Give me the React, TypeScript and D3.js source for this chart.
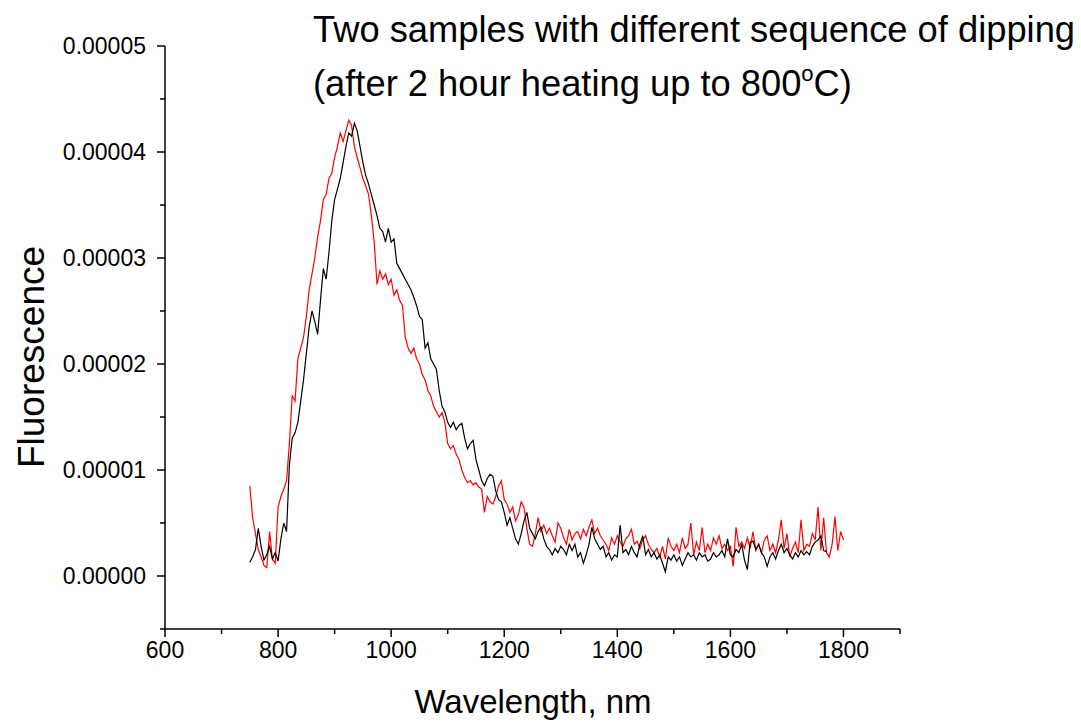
import React from "react";
import * as d3 from "d3";

// Fluorescence spectra, values in units of 1e-6, sampled every 5 nm from 750 nm
const WL_START = 750;
const WL_STEP = 5;
const VALUE_UNIT = 1e-6;

// Sample 1 (black), 750–1770 nm
const sampleBlack: number[] = [
  1.3, 1.8, 2.5, 4.5, 2.8, 1.5, 2.0, 2.8, 1.6, 2.2,
  1.4, 3.5, 5.0, 4.2, 10.5, 13.0, 13.5, 14.5, 16.5, 18.5,
  21.0, 23.5, 25.0, 24.0, 22.8, 26.0, 29.0, 28.0, 30.5, 33.5,
  35.5, 36.5, 37.5, 39.0, 40.5, 41.8, 41.5, 42.7, 42.0, 40.5,
  39.0, 37.8, 37.0, 36.0, 35.0, 34.0, 32.8, 32.5, 31.5, 32.8,
  31.5, 31.8, 29.5, 29.0, 28.5, 28.0, 27.5, 27.0, 26.3, 25.5,
  24.5, 24.2, 21.5, 22.0, 20.5, 20.0, 19.5, 17.5, 16.0, 15.5,
  14.5, 14.0, 14.5, 13.8, 14.2, 14.4, 13.0, 12.0, 12.5, 12.8,
  11.0, 10.0, 9.0, 8.5, 9.2, 9.6, 9.4, 8.0, 7.2, 7.0,
  6.0, 4.8, 5.5, 4.5, 3.5, 3.0, 4.0, 5.2, 6.0, 4.5,
  4.0, 3.5, 4.2, 4.6, 3.5, 2.8, 2.5, 2.0, 2.6, 2.2,
  2.8, 2.5, 2.0, 3.0, 2.4, 3.0, 1.8, 2.2, 1.2, 2.0,
  3.0, 4.6, 3.5, 3.0, 2.5, 2.8, 1.8, 2.2, 1.5, 2.0,
  1.8, 4.8, 2.2, 2.5, 2.0, 2.8, 2.2, 1.8, 3.0, 3.8,
  2.0, 2.5, 1.8, 2.2, 1.6, 2.0, 1.2, 0.4, 1.8, 1.5,
  2.0, 1.4, 1.8, 1.0, 1.6, 2.2, 1.8, 2.0, 1.5, 2.2,
  1.8, 2.0, 1.4, 1.6, 2.2, 1.8, 2.0, 2.4, 1.8, 3.5,
  2.0, 1.8, 2.5, 2.2, 3.0, 1.5, 0.6, 3.2, 3.3, 2.5,
  3.0, 2.2, 1.8, 0.9, 1.8, 2.2, 1.6, 2.4, 3.0, 2.2,
  2.6, 2.0, 1.6, 2.2, 1.8, 2.4, 2.0, 2.3, 2.0, 2.8,
  3.2, 3.4, 3.8, 2.4, 2.3,
];

// Sample 2 (red), 750–1800 nm
const sampleRed: number[] = [
  8.5, 5.5, 4.0, 2.5, 1.8, 1.0, 0.8, 4.2, 1.6, 1.2,
  6.5, 7.5, 8.2, 9.0, 12.5, 17.0, 16.5, 20.5, 21.5, 22.5,
  24.5, 27.0, 28.5, 30.0, 32.0, 33.5, 35.5, 36.0, 37.5, 38.0,
  39.5, 40.5, 41.8, 41.0, 42.0, 43.0, 42.5, 40.5, 39.5, 38.5,
  37.5, 36.8, 36.0, 34.0, 31.5, 27.5, 28.8, 28.0, 28.5, 27.5,
  28.0, 26.5, 27.0, 26.0, 25.5, 22.5, 21.5, 21.0, 21.5, 20.5,
  20.0, 19.0, 18.5, 17.5, 17.0, 16.0, 15.5, 15.0, 15.4, 14.5,
  12.5, 12.0, 12.3, 11.5, 11.0, 10.0, 9.3, 8.8, 9.0, 8.6,
  8.8, 8.4, 8.2, 6.0, 7.5, 7.0, 6.8, 7.5, 8.5, 9.0,
  7.2, 6.8, 6.0, 6.5, 5.2, 5.8, 7.0, 6.5, 4.5, 3.0,
  2.8, 4.0, 5.5, 4.2, 4.8, 4.0, 4.5, 3.8, 3.2, 5.0,
  4.5, 3.6, 3.0, 4.4, 3.4, 4.0, 4.2, 3.5, 4.4, 3.8,
  4.6, 5.3, 4.0, 4.5, 3.8, 3.4, 3.0, 2.4, 3.6, 3.0,
  3.8, 3.2, 2.8, 3.5, 3.8, 4.4, 3.0, 3.3, 2.6, 3.4,
  3.8, 3.0, 2.5, 2.2, 2.6, 1.8, 2.8, 1.6, 3.6, 2.8,
  2.4, 3.0, 2.2, 3.6, 2.6, 3.0, 5.0, 2.0, 3.2, 2.4,
  4.6, 2.2, 3.0, 2.4, 3.6, 3.0, 3.8, 2.6, 3.0, 2.4,
  2.8, 0.9, 4.6, 2.8, 3.2, 2.6, 3.6, 2.6, 4.2, 2.4,
  3.0, 2.2, 3.4, 3.8, 2.4, 3.0, 2.2, 3.4, 5.3, 2.6,
  4.0, 1.8, 2.6, 3.2, 2.2, 5.3, 2.4, 3.0, 2.8, 4.0,
  3.4, 6.5, 2.4, 5.5, 2.2, 1.8, 3.0, 5.6, 2.4, 4.2,
  3.4,
];

const xMajorTicks = [600, 800, 1000, 1200, 1400, 1600, 1800];
const xMinorTicks = [700, 900, 1100, 1300, 1500, 1700, 1900];
const yMajorTicks = [0, 0.00001, 0.00002, 0.00003, 0.00004, 0.00005];
const yMinorTicks = [-0.000005, 0.000005, 0.000015, 0.000025, 0.000035, 0.000045];
const yTickLabels = ["0.00000", "0.00001", "0.00002", "0.00003", "0.00004", "0.00005"];

const titleLine1 = "Two samples with different sequence of dipping";
const titleLine2a = "(after 2 hour heating up to 800";
const titleSup = "o";
const titleLine2b = "C)";
const xTitle = "Wavelength, nm";
const yTitle = "Fluorescence";

const FONT = "Arial, 'Liberation Sans', sans-serif";

export default function App() {
  const x = d3.scaleLinear().domain([600, 1900]).range([165, 900]);
  const y = d3.scaleLinear().domain([-0.000005, 0.00005]).range([629, 46]);

  const toPoints = (vals: number[]) =>
    vals.map((v, i) => [WL_START + i * WL_STEP, v * VALUE_UNIT] as [number, number]);

  const line = d3
    .line<[number, number]>()
    .x((d) => x(d[0]))
    .y((d) => y(d[1]));

  const blackPath = line(toPoints(sampleBlack)) || "";
  const redPath = line(toPoints(sampleRed)) || "";

  const x0 = x(600);
  const yAxisY = y(-0.000005);

  return (
    <svg
      width={1081}
      height={725}
      style={{ position: "absolute", left: 0, top: 0, background: "#fff" }}
      fontFamily={FONT}
    >
      <rect x={0} y={0} width={1081} height={725} fill="#fff" />
      {/* data */}
      <path d={redPath} fill="none" stroke="#ff0000" strokeWidth={1.2} />
      <path d={blackPath} fill="none" stroke="#000" strokeWidth={1.2} />

      {/* axes */}
      <line x1={x0} x2={x0} y1={y(0.00005)} y2={yAxisY} stroke="#000" strokeWidth={1.5} />
      <line x1={x0} x2={x(1900)} y1={yAxisY} y2={yAxisY} stroke="#000" strokeWidth={1.5} />

      {yMajorTicks.map((t, i) => (
        <g key={"ym" + i}>
          <line x1={x0 - 8} x2={x0} y1={y(t)} y2={y(t)} stroke="#000" strokeWidth={1.5} />
          <text x={x0 - 19} y={y(t)} dy="0.35em" textAnchor="end" fontSize={23}>
            {yTickLabels[i]}
          </text>
        </g>
      ))}
      {yMinorTicks.map((t, i) => (
        <line key={"yn" + i} x1={x0 - 5} x2={x0} y1={y(t)} y2={y(t)} stroke="#000" strokeWidth={1.5} />
      ))}
      {xMajorTicks.map((t, i) => (
        <g key={"xm" + i}>
          <line x1={x(t)} x2={x(t)} y1={yAxisY} y2={yAxisY + 8} stroke="#000" strokeWidth={1.5} />
          <text x={x(t)} y={yAxisY + 29} textAnchor="middle" fontSize={23}>
            {t}
          </text>
        </g>
      ))}
      {xMinorTicks.map((t, i) => (
        <line key={"xn" + i} x1={x(t)} x2={x(t)} y1={yAxisY} y2={yAxisY + 5} stroke="#000" strokeWidth={1.5} />
      ))}

      {/* axis titles */}
      <text x={533} y={713} textAnchor="middle" fontSize={33}>
        {xTitle}
      </text>
      <text transform="translate(44,357) rotate(-90)" textAnchor="middle" fontSize={37}>
        {yTitle}
      </text>

      {/* title */}
      <text x={313} y={42} fontSize={36.3}>
        {titleLine1}
      </text>
      <text x={313} y={96} fontSize={36.3}>
        {titleLine2a}
        <tspan dy={-15} fontSize={22}>{titleSup}</tspan>
        <tspan dy={15}>{titleLine2b}</tspan>
      </text>
    </svg>
  );
}
